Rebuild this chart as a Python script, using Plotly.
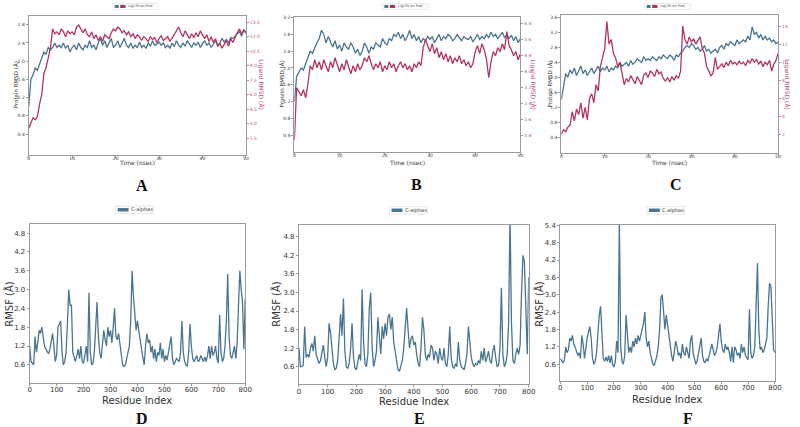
import plotly.graph_objects as go

# ---------------- data ----------------
time_ns = [i * 0.5 for i in range(101)]
residues = list(range(0, 805, 5))

a_protein = [1.0,1.6,1.7,1.85,1.8,1.95,2.05,2.2,2.15,2.3,
             2.25,2.3,2.4,2.3,2.35,2.3,2.4,2.28,2.35,2.2,
             2.3,2.35,2.25,2.4,2.3,2.25,2.35,2.3,2.45,2.3,
             2.35,2.25,2.4,2.5,2.35,2.45,2.3,2.4,2.5,2.3,
             2.35,2.45,2.3,2.4,2.5,2.35,2.3,2.4,2.28,2.35,
             2.3,2.42,2.3,2.35,2.28,2.4,2.33,2.45,2.35,2.38,
             2.42,2.35,2.4,2.3,2.35,2.28,2.4,2.32,2.45,2.35,
             2.3,2.4,2.33,2.45,2.38,2.3,2.4,2.35,2.42,2.3,
             2.38,2.45,2.35,2.4,2.3,2.38,2.45,2.35,2.4,2.5,
             2.42,2.48,2.4,2.52,2.5,2.55,2.6,2.65,2.55,2.7,
             2.6]
a_ligand = [2.5,3.0,3.6,3.4,3.7,5.0,6.0,8.2,8.8,9.8,
            10.8,12.8,12.3,12.5,12.2,12.8,12.5,12.0,12.6,12.3,
            12.5,12.2,13.0,13.2,12.8,12.4,12.8,12.2,12.0,12.5,
            11.8,12.2,11.6,12.0,11.5,12.2,12.0,11.8,12.4,12.8,
            12.6,13.0,12.8,12.4,12.6,12.2,12.5,12.0,12.3,11.8,
            12.2,12.0,11.6,12.0,11.8,11.5,12.0,11.7,11.9,11.4,
            11.8,12.1,11.6,11.8,12.0,11.5,11.8,12.2,12.6,13.0,
            12.4,12.0,12.6,12.2,11.8,12.3,11.9,12.4,12.0,12.6,
            12.2,11.8,12.2,11.5,12.0,11.4,11.8,11.0,11.3,10.8,
            11.2,11.6,11.0,11.8,11.4,12.0,12.4,12.8,12.3,12.6,
            12.5]
b_protein = [1.2,1.8,1.9,2.0,1.95,2.1,2.2,2.4,2.35,2.5,
             2.6,2.7,2.9,2.8,2.6,2.75,2.6,2.5,2.65,2.45,
             2.55,2.4,2.6,2.5,2.45,2.6,2.5,2.35,2.45,2.3,
             2.4,2.6,2.5,2.35,2.5,2.45,2.6,2.55,2.5,2.7,
             2.6,2.55,2.7,2.65,2.8,2.75,2.85,2.7,2.8,2.65,
             2.75,2.9,2.7,2.8,2.65,2.75,2.6,2.7,2.65,2.75,
             2.68,2.75,2.6,2.7,2.8,2.65,2.75,2.7,2.8,2.75,
             2.65,2.7,2.8,2.72,2.65,2.75,2.7,2.68,2.75,2.62,
             2.7,2.8,2.68,2.75,2.7,2.8,2.72,2.85,2.75,2.8,
             2.7,2.78,2.85,2.72,2.8,2.7,2.78,2.65,2.75,2.6,
             2.7]
b_ligand = [0.6,3.2,3.0,2.8,3.1,2.7,3.4,4.3,4.1,4.6,
            4.2,4.5,4.1,4.6,4.3,4.0,4.5,4.2,4.7,4.3,
            4.0,4.4,4.1,4.6,4.2,3.9,4.3,4.0,4.4,4.1,
            4.3,4.7,4.5,4.8,4.4,4.1,4.4,4.2,4.5,4.0,
            4.3,4.1,4.5,4.2,4.4,4.0,4.3,4.5,4.2,4.4,
            4.1,4.3,4.0,4.4,4.2,4.5,4.3,5.2,5.6,5.3,
            5.0,5.4,4.9,5.2,4.7,5.0,4.6,4.9,4.5,4.8,
            4.4,4.7,4.5,4.8,4.4,4.6,4.3,4.5,4.2,4.4,
            5.0,5.3,4.9,5.4,5.1,4.6,3.7,4.5,5.0,4.8,
            5.2,5.0,5.4,5.1,6.0,5.3,5.1,4.8,5.0,4.6,
            4.9]
c_protein = [1.4,1.8,2.1,2.0,2.2,2.1,2.25,2.05,2.2,2.3,
             2.1,2.2,2.05,2.15,2.25,2.1,2.2,2.3,2.15,2.25,
             2.2,2.3,2.15,2.25,2.2,2.3,2.25,2.4,2.3,2.35,
             2.4,2.3,2.45,2.35,2.4,2.5,2.45,2.4,2.55,2.45,
             2.5,2.45,2.55,2.5,2.45,2.55,2.5,2.6,2.55,2.5,
             2.6,2.55,2.45,2.6,2.55,2.65,2.7,2.8,2.85,2.8,
             2.9,2.85,2.75,2.8,2.7,2.75,2.85,2.7,2.75,2.65,
             2.7,2.75,2.65,2.8,2.85,2.75,2.9,2.85,2.95,2.9,
             2.85,3.0,2.9,2.95,3.0,2.95,3.1,3.0,3.35,3.15,
             3.2,3.05,3.15,3.0,3.1,3.0,3.05,2.95,3.0,2.9,
             2.95]
c_ligand = [2.0,2.5,2.3,2.8,3.0,4.5,3.5,4.8,4.2,5.5,
            3.8,5.0,3.6,6.0,6.5,5.5,7.5,6.8,9.5,10.5,
            11.5,14.5,12.0,12.5,11.0,10.5,9.5,10.0,8.5,7.5,
            8.2,7.8,8.5,8.0,7.6,8.4,8.0,7.5,8.6,8.8,
            8.3,9.0,8.8,8.4,9.2,8.7,8.9,8.2,7.9,8.3,
            7.8,8.4,8.0,8.5,8.2,9.0,14.0,12.5,12.0,12.8,
            12.2,12.6,12.0,12.4,12.8,11.5,11.0,9.5,9.0,8.5,
            8.8,10.5,9.2,9.5,9.8,9.4,10.0,9.6,10.2,9.8,
            10.0,9.7,10.1,9.8,10.0,9.6,10.2,9.9,10.4,10.0,
            10.3,9.8,10.1,9.5,10.0,9.7,10.2,9.0,9.8,10.2,
            11.0]
d_rmsf = [1.2,0.7,0.65,0.6,1.5,1.0,1.3,1.7,1.6,1.8,
          1.5,1.2,1.1,1.0,0.95,1.1,1.4,1.6,1.2,0.7,
          0.9,1.8,1.9,2.0,1.0,0.6,0.7,1.0,1.9,3.0,
          2.5,2.5,1.0,0.8,0.7,0.9,1.1,0.8,1.2,0.7,
          0.65,0.9,1.2,0.7,2.9,1.0,0.6,0.65,1.0,1.8,
          2.6,1.5,1.0,0.8,1.2,1.7,1.4,1.2,1.8,1.5,
          1.7,1.3,1.8,2.4,1.5,1.4,1.6,1.2,0.8,0.6,
          0.55,0.6,0.8,1.0,1.2,2.0,3.6,2.8,2.1,1.7,
          2.0,1.6,1.4,1.1,0.8,0.6,1.2,1.6,1.3,1.4,
          1.0,1.2,0.8,1.1,0.7,1.0,0.9,1.3,0.8,1.1,
          0.7,0.9,0.75,1.0,1.2,1.5,0.8,0.6,0.7,0.8,
          0.75,0.7,1.0,2.0,1.0,0.7,0.6,0.55,1.0,1.9,
          1.2,0.8,0.7,0.8,0.9,0.7,0.75,0.9,0.8,0.7,
          0.85,0.7,0.9,1.2,0.8,1.2,0.9,1.0,1.2,0.8,
          0.65,2.2,1.0,0.7,0.8,1.2,2.0,3.5,1.5,0.9,
          0.8,1.0,1.2,0.8,1.3,2.5,3.6,3.0,2.6,1.1,
          2.7]
e_rmsf = [1.2,0.6,0.6,0.65,1.9,0.9,1.0,0.9,1.2,1.35,
          1.1,1.6,1.0,0.8,0.7,0.8,1.0,1.3,0.9,0.6,
          0.9,2.0,1.7,1.2,0.7,0.5,0.55,0.8,1.5,2.3,
          1.6,2.8,1.1,0.6,0.55,0.7,1.2,2.0,0.9,0.55,
          0.5,0.7,1.0,0.8,3.1,1.4,0.7,0.6,1.0,2.5,
          3.0,1.2,0.6,0.8,1.1,2.2,1.4,1.0,1.9,1.5,
          2.0,1.6,2.2,2.3,1.8,2.2,1.4,1.1,0.8,0.5,
          0.45,0.6,0.8,1.2,2.0,2.5,1.8,1.2,1.5,1.6,
          1.3,1.4,1.0,0.7,0.6,1.2,2.2,1.8,1.0,0.8,
          1.0,0.9,1.3,1.2,0.8,1.1,1.0,0.7,1.2,0.9,
          0.8,1.2,0.7,0.6,1.0,1.9,0.9,0.6,0.55,0.7,
          0.6,1.4,0.8,0.6,0.55,0.5,0.7,1.0,1.9,1.3,
          0.9,0.7,0.6,0.7,0.65,0.8,0.7,1.1,0.8,1.2,
          0.75,0.9,1.1,0.8,0.7,1.1,1.3,0.9,0.6,0.65,
          1.2,3.15,1.0,0.6,0.7,1.0,2.0,5.5,2.0,0.8,
          0.7,1.0,1.2,1.0,1.3,3.0,4.2,4.0,2.0,1.0,
          3.5]
f_rmsf = [0.8,0.7,0.65,0.75,1.2,1.0,1.1,1.5,1.4,1.6,
          1.3,1.2,1.0,0.9,1.0,0.8,1.6,1.3,0.8,1.2,
          1.5,1.7,1.9,1.5,0.8,0.6,0.7,1.0,1.8,2.3,
          2.6,1.4,0.8,0.7,0.85,0.7,0.9,0.65,0.9,0.6,
          0.5,0.7,1.4,1.0,5.6,1.2,0.7,0.6,0.9,2.3,
          1.5,1.0,1.2,1.0,1.4,1.2,1.5,1.3,1.6,1.4,
          1.6,1.8,2.0,2.4,1.5,1.2,1.4,1.0,0.8,0.6,
          0.55,0.7,0.9,1.2,1.8,2.9,3.0,2.4,1.8,2.3,
          1.9,1.6,1.2,0.9,0.7,1.0,1.4,1.2,0.9,1.0,
          0.8,1.3,1.0,0.9,1.2,1.0,0.8,1.4,1.6,1.0,
          0.8,0.6,0.7,1.0,1.2,1.5,0.9,0.7,0.65,0.8,
          0.7,0.9,1.0,1.3,1.1,0.9,1.0,1.2,1.6,2.0,
          1.4,1.1,1.0,1.3,1.1,1.2,1.0,0.7,1.2,0.65,
          1.2,1.1,0.9,1.0,0.8,1.3,1.0,1.2,0.9,0.8,
          0.75,2.5,1.0,0.8,0.9,1.2,2.5,4.1,1.8,1.1,
          1.2,1.0,1.1,1.3,1.5,2.6,3.4,3.3,2.0,1.1,
          1.0]

time_ticks = [0, 10, 20, 30, 40, 50]
res_ticks = [0, 100, 200, 300, 400, 500, 600, 700, 800]
a_prot_ticks = ["0.4", "0.8", "1.2", "1.6", "2.0", "2.4", "2.8"]
a_lig_ticks = ["1.5", "3.0", "4.5", "6.0", "7.5", "9.0", "10.5", "12.0", "13.5"]
b_prot_ticks = ["0.4", "0.8", "1.2", "1.6", "2.0", "2.4", "2.8", "3.2"]
b_lig_ticks = ["0.8", "1.6", "2.4", "3.2", "4.0", "4.8", "5.6", "6.4"]
c_prot_ticks = ["0.4", "0.8", "1.2", "1.6", "2.0", "2.4", "2.8", "3.2", "3.6"]
c_lig_ticks = ["2", "4", "6", "8", "10", "12", "14"]
de_rmsf_ticks = ["0.6", "1.2", "1.8", "2.4", "3.0", "3.6", "4.2", "4.8"]
f_rmsf_ticks = ["0.6", "1.2", "1.8", "2.4", "3.0", "3.6", "4.2", "4.8", "5.4"]
panel_letters = ["A", "B", "C", "D", "E", "F"]

# ---------------- style ----------------
W, H = 800, 427
BLUE = "#4a7592"
RED = "#b3345e"
RED_TXT = "#b8557a"
SPINE = "#9a9a9a"
FONT = "DejaVu Sans"


def px(x):
    return x / W


def py(y):
    return 1 - y / H


def xax(x0, x1, y_anchor, rng, ticks, size, standoff):
    return dict(domain=[px(x0), px(x1)], anchor=y_anchor, range=rng,
                tickmode="array", tickvals=ticks, ticktext=[str(t) for t in ticks],
                showgrid=False, zeroline=False, showline=True, mirror=True,
                linecolor=SPINE, linewidth=1, ticks="outside", ticklen=2,
                ticklabelstandoff=standoff,
                tickcolor=SPINE, tickfont=dict(family=FONT, size=size, color="#333"))


def yax(y_top, y_bot, x_anchor, rng, labels, size, color="#333", side="left",
        overlay=None, mirror=True):
    d = dict(range=rng, anchor=x_anchor, side=side,
             tickmode="array", tickvals=[float(v) for v in labels], ticktext=labels,
             showgrid=False, zeroline=False, showline=True, mirror=mirror,
             linecolor=SPINE, linewidth=1, ticks="outside", ticklen=2,
             tickcolor=SPINE, tickfont=dict(family=FONT, size=size, color=color))
    if overlay:
        d["overlaying"] = overlay
    else:
        d["domain"] = [py(y_bot), py(y_top)]
    return d


fig = go.Figure()

# RMSD panels
rmsd_sets = [(a_protein, a_ligand, "x", "y", "y7"),
             (b_protein, b_ligand, "x2", "y2", "y8"),
             (c_protein, c_ligand, "x3", "y3", "y9")]
for prot, lig, xa, ya, ya2 in rmsd_sets:
    fig.add_trace(go.Scatter(x=time_ns, y=prot, mode="lines", xaxis=xa, yaxis=ya,
                             line=dict(color=BLUE, width=1.3), showlegend=False))
    fig.add_trace(go.Scatter(x=time_ns, y=lig, mode="lines", xaxis=xa, yaxis=ya2,
                             line=dict(color=RED, width=1.3), showlegend=False))

# RMSF panels
for vals, xa, ya in [(d_rmsf, "x4", "y4"), (e_rmsf, "x5", "y5"), (f_rmsf, "x6", "y6")]:
    fig.add_trace(go.Scatter(x=residues, y=vals, mode="lines", xaxis=xa, yaxis=ya,
                             line=dict(color=BLUE, width=1.3), showlegend=False))

layout = dict(
    width=W, height=H, margin=dict(l=0, r=0, t=0, b=0),
    paper_bgcolor="white", plot_bgcolor="white", showlegend=False,
    xaxis=xax(27, 246.7, "y", [0, 50], time_ticks, 4.5, -3),
    yaxis=yax(12.7, 152.7, "x", [-0.05, 3.0], a_prot_ticks, 4.5),
    yaxis7=yax(None, None, "x", [-0.22, 14.18], a_lig_ticks, 4.5, RED_TXT, "right", "y", False),
    xaxis2=xax(295.7, 524.3, "y2", [0, 50], time_ticks, 4.5, -3),
    yaxis2=yax(14.3, 150, "x2", [0, 3.21], b_prot_ticks, 4.5),
    yaxis8=yax(None, None, "x2", [0, 6.72], b_lig_ticks, 4.5, RED_TXT, "right", "y2", False),
    xaxis3=xax(565.7, 785, "y3", [0, 50], time_ticks, 4.5, -3),
    yaxis3=yax(12.3, 150.7, "x3", [-0.01, 3.66], c_prot_ticks, 4.5),
    yaxis9=yax(None, None, "x3", [-0.03, 15.2], c_lig_ticks, 4.5, RED_TXT, "right", "y3", False),
    xaxis4=xax(28, 246, "y4", [0, 800], res_ticks, 7, -2),
    yaxis4=yax(222.3, 382.7, "x4", [0.02, 5.1], de_rmsf_ticks, 7),
    xaxis5=xax(300.3, 532.7, "y5", [0, 800], res_ticks, 7, -2),
    yaxis5=yax(223.3, 384, "x5", [0.03, 5.19], de_rmsf_ticks, 7),
    xaxis6=xax(564.7, 781.7, "y6", [0, 800], res_ticks, 7, -2),
    yaxis6=yax(223.3, 380.7, "x6", [0.02, 5.42], f_rmsf_ticks, 7),
)
fig.update_layout(**layout)

annotations = []
shapes = []


def text(x, y, s, size, color="#222", angle=0, family=FONT, bold=False, xanchor="center"):
    if bold:
        s = "<b>" + s + "</b>"
    annotations.append(dict(x=px(x), y=py(y), xref="paper", yref="paper", text=s,
                            showarrow=False, textangle=angle, xanchor=xanchor,
                            yanchor="middle",
                            font=dict(family=family, size=size, color=color)))


def rect(x0, y0, x1, y1, fill, line=None):
    shapes.append(dict(type="rect", xref="paper", yref="paper",
                       x0=px(x0), x1=px(x1), y0=py(y1), y1=py(y0),
                       fillcolor=fill, line=dict(width=0.6 if line else 0,
                                                  color=line or fill), layer="above"))


# top row titles
for cx, ylab_x, lig_x in [(137, 14, 262), (410, 282.3, 537), (675, 553.3, 793)]:
    text(cx, 161, "Time (nsec)", 6, "#333")
    text(ylab_x, 82, "Protein RMSD (Å)", 5.5, "#333", angle=-90)
    text(lig_x, 82, "Ligand RMSD (Å)", 6, RED_TXT, angle=90)

# bottom row titles
for cx, ylab_x, ty in [(137, 7, 400), (417, 277, 401), (673, 543, 399)]:
    text(cx, ty, "Residue Index", 10, "#333")
    text(ylab_x, 303, "RMSF (Å)", 10, "#333", angle=-90)

# panel letters
for (lx, ly), lab in zip([(142, 184), (419, 183), (682, 183),
                          (142, 418), (422, 418), (694, 418)], panel_letters):
    text(lx, ly, lab, 16, "#111", family="Liberation Serif", bold=True)

# RMSD legends
for bx in [114, 386.7, 652]:
    rect(bx - 2, 0.5, bx + 44, 6.5, "white", "#dddddd")
    rect(bx, 2, bx + 4, 5, BLUE)
    text(bx + 4.2, 3.4, "C", 3.5, "#444", xanchor="left")
    rect(bx + 5.5, 2, bx + 11, 5, RED)
    text(bx + 11.3, 3.4, "Lig) fit on Prot", 3.5, "#444", xanchor="left")

# RMSF legends
for bx, by in [(117, 207), (394, 207.5), (654.3, 207.5)]:
    rect(bx - 2, by - 2.5, bx + 36, by + 5, "white", "#d5d5d5")
    rect(bx, by - 0.5, bx + 11, by + 3, BLUE)
    text(bx + 11.5, by + 1.2, "C-alphas", 5, "#333", xanchor="left")

fig.update_layout(annotations=annotations, shapes=shapes)
fig.write_html("out.html", config={"displayModeBar": False},
               post_script="document.body.style.margin='0';document.body.style.padding='0';")
